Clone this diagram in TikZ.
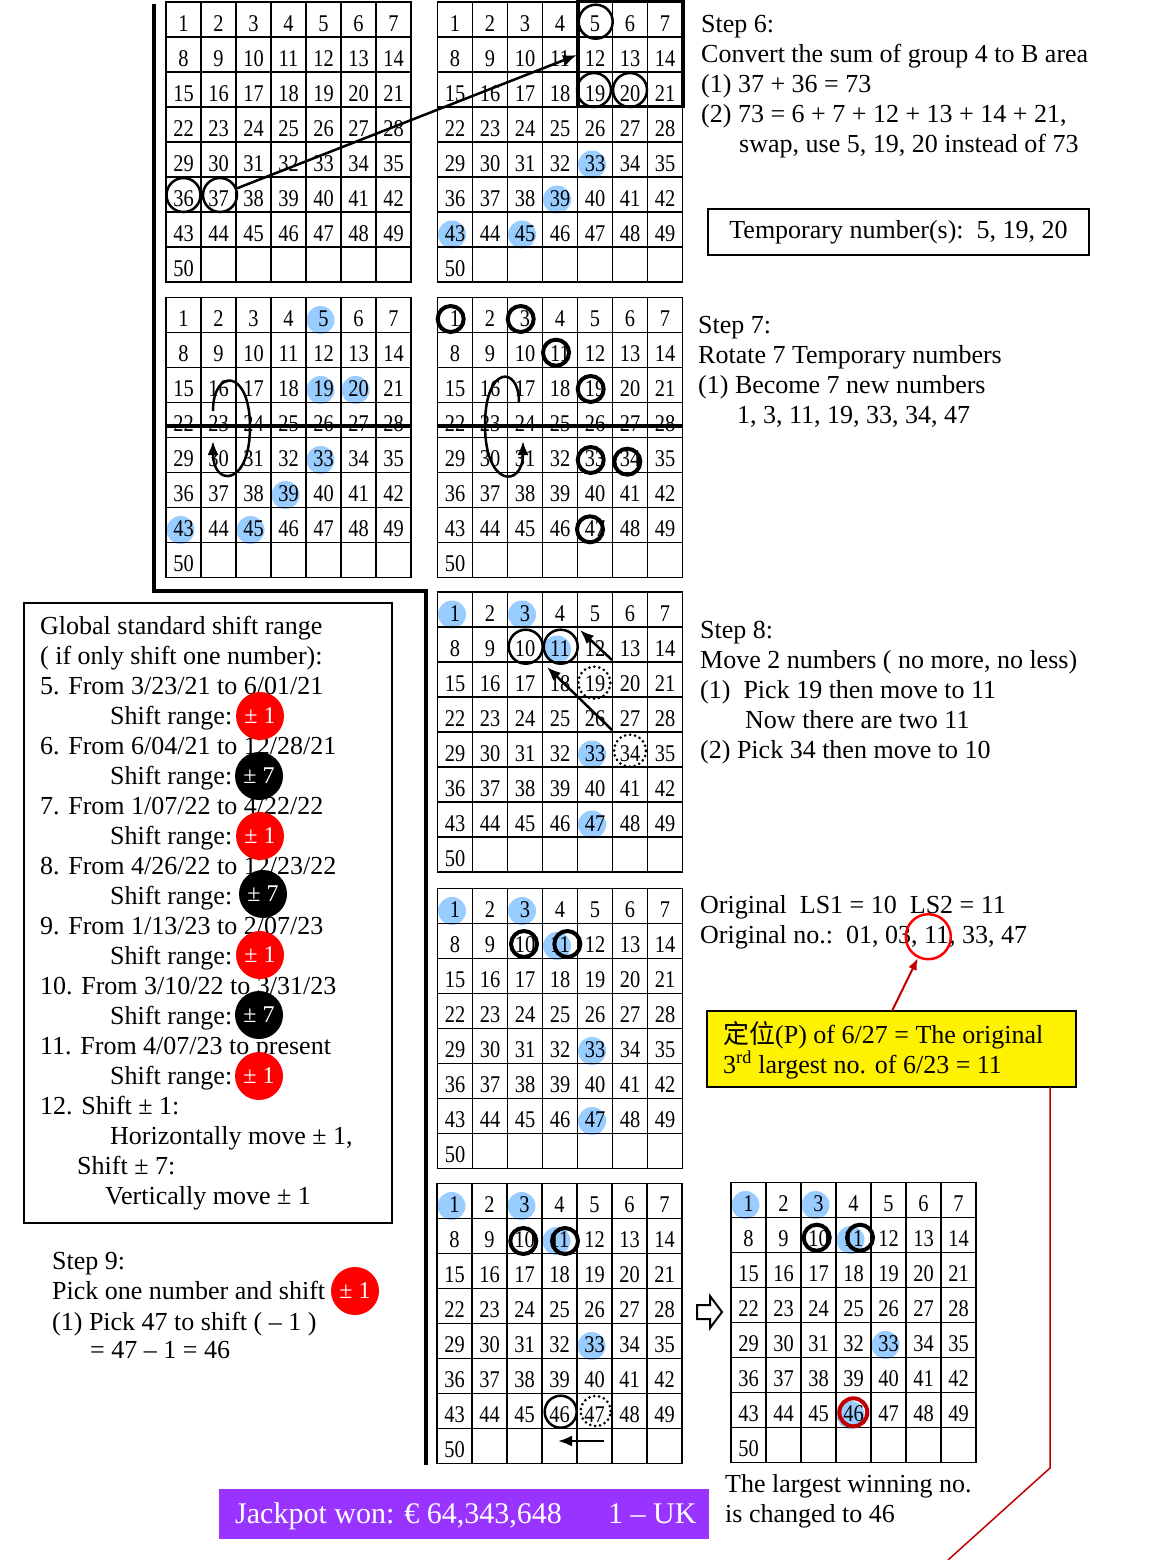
\documentclass[tikz,border=0pt]{standalone}
\usepackage{fontspec}
\setmainfont{Liberation Serif}
\newfontfamily\numfont[FakeStretch=0.85]{Liberation Serif}
\newfontfamily\cjkfont{Noto Sans CJK SC}
\usetikzlibrary{arrows.meta}
\pgfdeclarelayer{back}
\pgfdeclarelayer{bg}
\pgfsetlayers{back,bg,main}
\definecolor{ltblue}{HTML}{99CCFF}
\definecolor{purp}{HTML}{9933FF}
\definecolor{dred}{HTML}{C00000}
\tikzset{
  num/.style={font=\numfont\fontsize{24}{24}\selectfont, inner sep=0pt},
  gline/.style={line width=1.5pt},
  ring/.style={circle, draw, line width=2.5pt, inner sep=0pt, minimum size=34pt},
  bring/.style={circle, draw, line width=4pt, inner sep=0pt, minimum size=26pt},
  dring/.style={circle, draw, line width=3pt, dash pattern=on 0pt off 5pt, line cap=round, inner sep=0pt, minimum size=32pt},
  bluedot/.style={fill=ltblue},
  txt/.style={font=\fontsize{26}{30}\selectfont, anchor=base west, inner sep=0pt},
  badge/.style={circle, inner sep=0pt, minimum size=48pt, text=white, font=\fontsize{24}{24}\selectfont},
  arr/.style={line width=2.5pt, -{Latex[length=14pt,width=11pt]}},
  thickline/.style={line width=4pt},
}
\newcommand\lottogrid[3]{%
  \foreach \n in {1,...,50}{%
    \pgfmathtruncatemacro\rr{(\n-1)/7}%
    \pgfmathtruncatemacro\cc{\n-1-7*\rr}%
    \node[num] (#1\n) at ({#2+35*\cc+17.5},{#3+35*\rr+21.5}) {\n};
  }%
  \draw[gline] (#2,#3) rectangle ({#2+245},{#3+280});
  \foreach \i in {1,...,6}{\draw[gline] ({#2+35*\i},#3) -- ++(0,280);}
  \foreach \j in {1,...,7}{\draw[gline] (#2,{#3+35*\j}) -- ++(245,0);}
}
\begin{document}
\begin{tikzpicture}[x=1pt,y=-1pt]
\begin{pgfonlayer}{back}
\fill[white] (0,0) rectangle (1156,1560);
\end{pgfonlayer}
\useasboundingbox (0,0) rectangle (1156,1560);

% ---------- grids ----------
\lottogrid{A}{166}{2}
\lottogrid{B}{437.5}{2}
\lottogrid{C}{166}{297.5}
\lottogrid{D}{437.5}{297.5}
\lottogrid{E}{437.5}{592}
\lottogrid{F}{437.5}{888.5}
\lottogrid{G}{437}{1183.5}
\lottogrid{H}{731}{1182.5}

\begin{pgfonlayer}{bg}
\foreach \g/\n in {B/33,B/39,B/43,B/45,
  C/5,C/19,C/20,C/33,C/39,C/43,C/45,
  E/1,E/3,E/11,E/33,E/47,
  F/1,F/3,F/11,F/33,F/47,
  G/1,G/3,G/11,G/33,
  H/1,H/3,H/11,H/33,H/46}
  {\fill[bluedot] ([shift={(-3,1)}]\g\n) circle (14);}
\end{pgfonlayer}

% ---------- frame ----------
\draw[thickline] (154,4) -- (154,591) -- (426,591) -- (426,1465);

% ---------- step 6 ----------
\node[ring] (cA36) at (183.5,195) {};
\node[ring] (cA37) at (220,195) {};
\coordinate (t6) at (577,55);
\draw[arr] (cA37) -- (t6);
\draw[line width=3.5pt] (578,1.5) rectangle (683,106.5);
\node[ring] (cB5) at (595.7,21.7) {};
\node[ring] (cB19) at (594,90) {};
\node[ring] (cB20) at (630,90) {};

\node[txt] (s6a) at (701,33) {Step 6:};
\node[txt] (s6b) at (701,63) {Convert the sum of group 4 to B area};
\node[txt] (s6c) at (701,93) {(1) 37 + 36 = 73};
\node[txt] (s6d) at (701,123) {(2) 73 = 6 + 7 + 12 + 13 + 14 + 21,};
\node[txt] (s6e) at (739,153) {swap, use 5, 19, 20 instead of 73};
\node[draw, line width=2pt, minimum width=381pt, minimum height=46pt, inner sep=0pt,
      font=\fontsize{26}{30}\selectfont] (tmp) at (898.5,232) {Temporary number(s):\ \ 5, 19, 20};

% ---------- step 7 ----------
\draw[thickline] (166,426) -- (411,426);
\draw[thickline] (437.5,426) -- (682.5,426);
\coordinate (rc1s) at (213,411);
\coordinate (rc1t) at (213,441);
\draw[arr] (rc1s) .. controls (213,368) and (250,368) .. (250,427)
   .. controls (250,487) and (213,487) .. (rc1t);
\coordinate (rd1s) at (519,402);
\coordinate (rd1t) at (523,441);
\draw[arr] (rd1s) .. controls (519,365) and (485,365) .. (485,425)
   .. controls (485,488) and (523,488) .. (rd1t);
\node[bring] (cD1) at (450.7,319) {};
\node[bring] (cD3) at (520.7,319) {};
\node[bring] (cD11) at (556,352.7) {};
\node[bring] (cD19) at (590.7,389) {};
\node[bring] (cD33) at (590.7,460) {};
\node[bring] (cD34) at (627.3,461.7) {};
\node[bring] (cD47) at (590,529.3) {};

\node[txt] (s7a) at (698,333) {Step 7:};
\node[txt] (s7b) at (698,363) {Rotate 7 Temporary numbers};
\node[txt] (s7c) at (698,393) {(1) Become 7 new numbers};
\node[txt] (s7d) at (737,423) {1, 3, 11, 19, 33, 34, 47};

% ---------- step 8 ----------
\node[ring] (cE10) at (525.7,646.7) {};
\node[ring] (cE11) at (560.7,646.7) {};
\node[dring] (dE19) at (594.3,682.7) {};
\node[dring] (dE34) at (630,750.7) {};
\coordinate (e1s) at (612,660);
\coordinate (e1t) at (580,630);
\coordinate (e2s) at (612,730);
\coordinate (e2t) at (547,667);
\draw[arr] (e1s) -- (e1t);
\draw[arr] (e2s) -- (e2t);

\node[txt] (s8a) at (700,638) {Step 8:};
\node[txt] (s8b) at (700,668) {Move 2 numbers ( no more, no less)};
\node[txt] (s8c) at (700,698) {(1)\ \ Pick 19 then move to 11};
\node[txt] (s8d) at (745,728) {Now there are two 11};
\node[txt] (s8e) at (700,758) {(2) Pick 34 then move to 10};

% ---------- original ----------
\node[bring] (cF10) at (524,944) {};
\node[bring] (cF11) at (567.3,944) {};
\node[txt] (o1) at (700,913) {Original\ \ LS1 = 10\ \ LS2 = 11};
\node[txt] (o2) at (700,943) {Original no.:\ \ 01, 03, 11, 33, 47};
\node[circle, draw=red, line width=2.5pt, inner sep=0pt, minimum size=45pt] (o11) at (928.3,936.7) {};
\draw[line width=2pt, fill=yellow] (707,1011) rectangle (1076,1087);
\coordinate (yb) at (892,1011);
\draw[dred, line width=2pt, -{Latex[length=12pt,width=9pt]}] (yb) -- (o11);
\node[txt] (y1) at (723,1043) {{\cjkfont 定位}(P) of 6/27 = The original};
\node[txt] (y2) at (723,1073) {3\textsuperscript{rd} largest no. of 6/23 = 11};
\coordinate (rl1) at (1050,1087);
\coordinate (rl2) at (1050,1468);
\coordinate (rl3) at (948,1560);
\draw[dred, line width=1.5pt] (rl1) -- (rl2) -- (rl3);

% ---------- step 9 grids ----------
\node[bring] (cG10) at (523.3,1241) {};
\node[bring] (cG11) at (565,1241) {};
\node[ring, minimum size=32pt] (cG46) at (560.7,1411.7) {};
\node[dring, minimum size=30pt] (dG47) at (595.7,1411) {};
\coordinate (g1s) at (604,1441);
\coordinate (g1t) at (558,1441);
\draw[arr] (g1s) -- (g1t);
\node[bring] (cH10) at (816.7,1237.7) {};
\node[bring] (cH11) at (860,1237.7) {};
\node[bring, draw=dred, minimum size=28pt] (cH46) at (853.3,1412.3) {};
\draw[line width=2pt, line join=miter] (697,1305) -- (710,1305) -- (710,1296) -- (722,1312)
   -- (710,1328) -- (710,1319) -- (697,1319) -- cycle;

\node[txt] (cap1) at (725,1492) {The largest winning no.};
\node[txt] (cap2) at (725,1522) {is changed to 46};

% ---------- left box ----------
\draw[line width=2pt] (24,603) rectangle (392,1223);
\node[txt] (l1) at (40,634) {Global standard shift range};
\node[txt] (l2) at (40,664) {( if only shift one number):};
\node[txt] (l3) at (40,694) {5. From 3/23/21 to 6/01/21};
\node[txt] (l4) at (110,724) {Shift range:};
\node[txt] (l5) at (40,754) {6. From 6/04/21 to 12/28/21};
\node[txt] (l6) at (110,784) {Shift range:};
\node[txt] (l7) at (40,814) {7. From 1/07/22 to 4/22/22};
\node[txt] (l8) at (110,844) {Shift range:};
\node[txt] (l9) at (40,874) {8. From 4/26/22 to 12/23/22};
\node[txt] (l10) at (110,904) {Shift range:};
\node[txt] (l11) at (40,934) {9. From 1/13/23 to 2/07/23};
\node[txt] (l12) at (110,964) {Shift range:};
\node[txt] (l13) at (40,994) {10. From 3/10/22 to 3/31/23};
\node[txt] (l14) at (110,1024) {Shift range:};
\node[txt] (l15) at (40,1054) {11. From 4/07/23 to present};
\node[txt] (l16) at (110,1084) {Shift range:};
\node[txt] (l17) at (40,1114) {12. Shift ± 1:};
\node[txt] (l18) at (110,1144) {Horizontally move ± 1,};
\node[txt] (l19) at (77,1174) {Shift ± 7:};
\node[txt] (l20) at (105,1204) {Vertically move ± 1};
\node[badge, fill=red] (bd1) at (260,716) {± 1};
\node[badge, fill=black] (bd2) at (259,776) {± 7};
\node[badge, fill=red] (bd3) at (260,836) {± 1};
\node[badge, fill=black] (bd4) at (263,894) {± 7};
\node[badge, fill=red] (bd5) at (260,955) {± 1};
\node[badge, fill=black] (bd6) at (259,1015) {± 7};
\node[badge, fill=red] (bd7) at (259,1076) {± 1};

% ---------- step 9 text ----------
\node[txt] (s9a) at (52,1269) {Step 9:};
\node[txt] (s9b) at (52,1299) {Pick one number and shift};
\node[txt] (s9c) at (52,1330) {(1) Pick 47 to shift ( – 1 )};
\node[txt] (s9d) at (90,1358) {= 47 – 1 = 46};
\node[badge, fill=red] (bd8) at (355,1291) {± 1};

% ---------- jackpot ----------
\fill[purp] (219,1489) rectangle (709,1539);
\node[txt, text=white, font=\fontsize{30}{30}\selectfont] (jp1) at (235,1523) {Jackpot won: € 64,343,648};
\node[txt, text=white, font=\fontsize{30}{30}\selectfont] (jp2) at (608,1523) {1 – UK};
\end{tikzpicture}
\end{document}
